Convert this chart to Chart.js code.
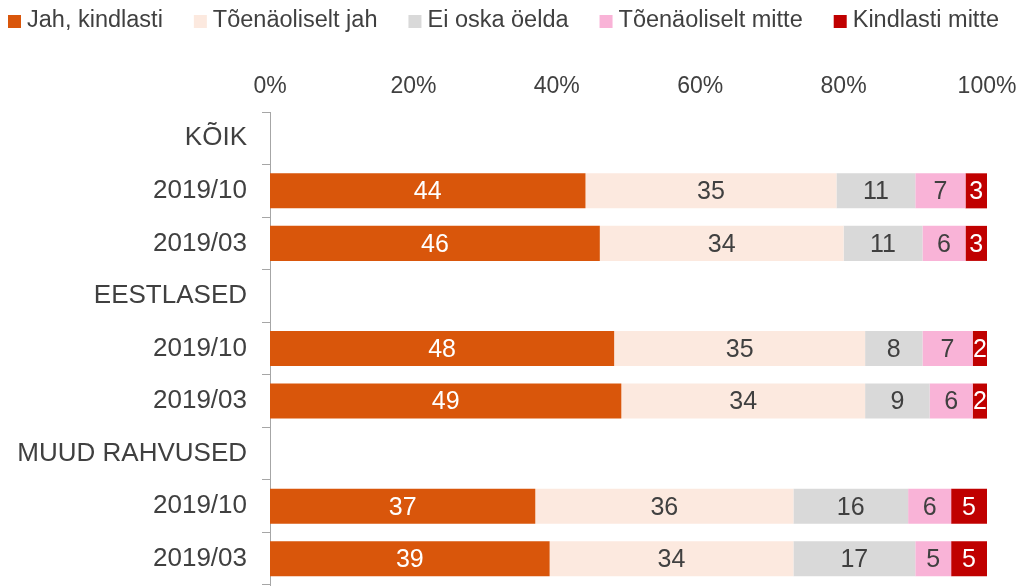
<!DOCTYPE html>
<html>
<head>
<meta charset="utf-8">
<script src="https://cdn.jsdelivr.net/npm/chart.js@4"></script>
<style>
  html, body { margin: 0; padding: 0; background: #fff; }
</style>
</head>
<body>
<canvas id="chartSurvey" width="1022" height="587"></canvas>
<script>
var categories = ["KÕIK", "2019/10", "2019/03", "EESTLASED", "2019/10", "2019/03", "MUUD RAHVUSED", "2019/10", "2019/03"];
var jahKindlasti   = [null, 44, 46, null, 48, 49, null, 37, 39];
var toenaoliseltJah = [null, 35, 34, null, 35, 34, null, 36, 34];
var eiOskaOelda    = [null, 11, 11, null, 8, 9, null, 16, 17];
var toenaoliseltMitte = [null, 7, 6, null, 7, 6, null, 6, 5];
var kindlastiMitte = [null, 3, 3, null, 2, 2, null, 5, 5];
var xTicks = [0, 20, 40, 60, 80, 100];

var textColor = '#404040';
var font = "'Liberation Sans', Arial, sans-serif";
Chart.defaults.font.family = font;
Chart.defaults.color = textColor;

// white / dark numbers in the middle of each segment
var barLabels = {
    id: 'barLabels',
    afterDatasetsDraw: function (chart) {
        var ctx = chart.ctx;
        ctx.save();
        ctx.font = '25px ' + font;
        ctx.textAlign = 'center';
        ctx.textBaseline = 'middle';
        chart.data.datasets.forEach(function (ds, i) {
            var meta = chart.getDatasetMeta(i);
            meta.data.forEach(function (bar, j) {
                var v = ds.data[j];
                if (v === null) return;
                var p = bar.getProps(['x', 'y', 'base'], true);
                ctx.fillStyle = ds.labelColor;
                ctx.fillText(v, (p.x + p.base) / 2, p.y + 1.5);
            });
        });
        ctx.restore();
    }
};

// one-row legend tight in the top left corner (built-in one wraps)
var topLegend = {
    id: 'topLegend',
    afterDraw: function (chart) {
        var ctx = chart.ctx;
        var x = 8;
        ctx.save();
        ctx.font = '23.5px ' + font;
        ctx.textAlign = 'left';
        ctx.textBaseline = 'middle';
        chart.data.datasets.forEach(function (ds) {
            ctx.fillStyle = ds.backgroundColor;
            ctx.fillRect(x, 15, 13, 13);
            ctx.fillStyle = textColor;
            ctx.fillText(ds.label, x + 19, 21);
            x += 19 + ctx.measureText(ds.label).width + 31;
        });
        ctx.restore();
    }
};

var survey = document.getElementById('chartSurvey').getContext('2d');
var chart = new Chart(survey, {
    type: 'bar',
    data: {
        labels: categories,
        datasets: [{
            label: "Jah, kindlasti",
            backgroundColor: '#D9560B',
            labelColor: '#fff',
            data: jahKindlasti
        }, {
            label: "Tõenäoliselt jah",
            backgroundColor: '#FCE9DF',
            labelColor: textColor,
            data: toenaoliseltJah
        }, {
            label: "Ei oska öelda",
            backgroundColor: '#D9D9D9',
            labelColor: textColor,
            data: eiOskaOelda
        }, {
            label: "Tõenäoliselt mitte",
            backgroundColor: '#F9B3D7',
            labelColor: textColor,
            data: toenaoliseltMitte
        }, {
            label: "Kindlasti mitte",
            backgroundColor: '#C00000',
            labelColor: '#fff',
            data: kindlastiMitte
        }]
    },
    options: {
        indexAxis: 'y',
        responsive: false,
        animation: false,
        datasets: {
            bar: { categoryPercentage: 0.667, barPercentage: 1 }
        },
        layout: { padding: { left: 0, right: 35, top: 64.5, bottom: 2 } },
        plugins: {
            tooltip: { enabled: false },
            legend: { display: false }
        },
        scales: {
            x: {
                position: 'top',
                stacked: true,
                min: 0,
                max: 100,
                afterBuildTicks: function (axis) {
                    axis.ticks = xTicks.map(function (v) { return { value: v }; });
                },
                afterFit: function (axis) {
                    axis.height = 47.5;
                    axis.paddingLeft = 0;
                    axis.paddingRight = 0;
                },
                ticks: {
                    font: { size: 23 },
                    color: textColor,
                    padding: 4,
                    callback: function (v) { return v + '%'; }
                },
                grid: { display: false },
                border: { display: false }
            },
            y: {
                stacked: true,
                afterFit: function (axis) {
                    axis.width = 270;
                    axis.paddingTop = 0;
                    axis.paddingBottom = 0;
                },
                ticks: {
                    font: { size: 26 },
                    color: textColor,
                    padding: 15
                },
                grid: {
                    drawOnChartArea: false,
                    tickLength: 8,
                    color: '#A6A6A6'
                },
                border: { color: '#A6A6A6', width: 1 }
            }
        }
    },
    plugins: [barLabels, topLegend]
});
</script>
</body>
</html>
